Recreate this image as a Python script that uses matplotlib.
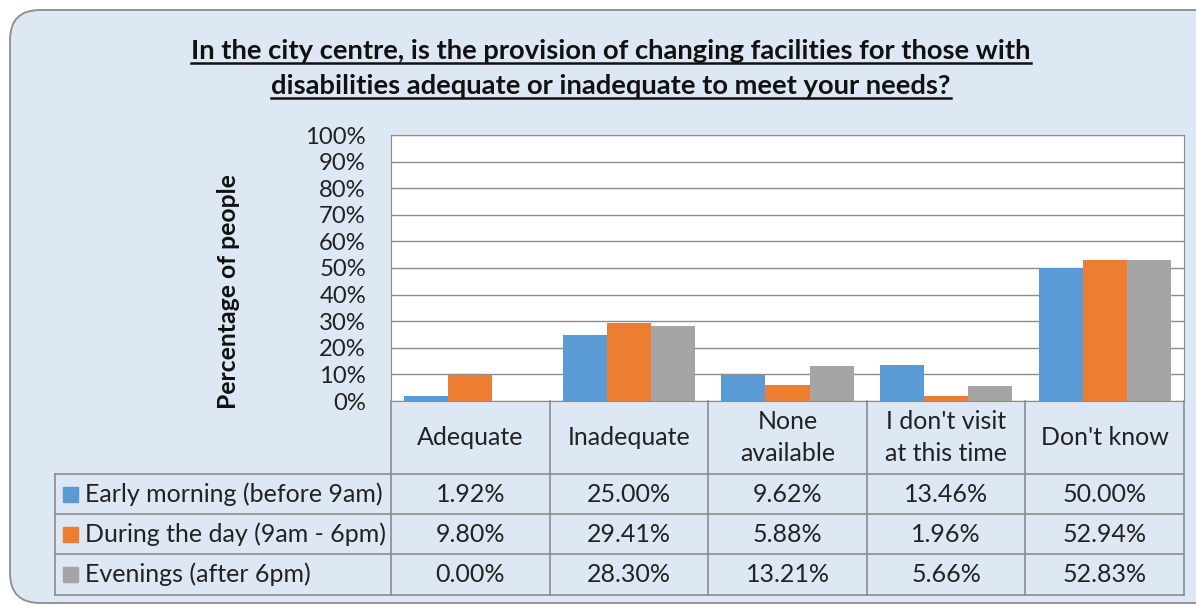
import matplotlib
matplotlib.use("Agg")
import matplotlib.pyplot as plt
from matplotlib.patches import FancyBboxPatch, Rectangle
from matplotlib.lines import Line2D
from matplotlib.transforms import IdentityTransform, blended_transform_factory
import numpy as np

categories = ["Adequate", "Inadequate", "None\navailable", "I don't visit\nat this time", "Don't know"]
series_names = ["Early morning (before 9am)", "During the day (9am - 6pm)", "Evenings (after 6pm)"]
early_morning = [1.92, 25.00, 9.62, 13.46, 50.00]
during_day = [9.80, 29.41, 5.88, 1.96, 52.94]
evenings = [0.00, 28.30, 13.21, 5.66, 52.83]
colors = ["#5B9BD5", "#ED7D31", "#A5A5A5"]
title_lines = ["In the city centre, is the provision of changing facilities for those with",
               "disabilities adequate or inadequate to meet your needs?"]
y_label = "Percentage of people"

plt.rcParams['font.family'] = ['Lato', 'DejaVu Sans']

W, H = 1196, 606
fig = plt.figure(figsize=(W / 100, H / 100), dpi=100)
fig.patch.set_facecolor('white')

# rounded background panel (pixel coordinates, y from bottom)
bg = FancyBboxPatch((10, 3), 1220, 593, boxstyle="round,pad=0,rounding_size=30",
                    transform=IdentityTransform(), facecolor="#DEE8F4",
                    edgecolor="#8C8C8C", lw=1.3, zorder=-10)
fig.patches.append(bg)

# plot area in pixels
L, R, T, B = 391, 1184, 135, 401
ax = fig.add_axes([L / W, 1 - B / H, (R - L) / W, (B - T) / H])
ax.set_facecolor('white')

n = len(categories)
x = np.arange(n)
bw = 1 / 3.6
series = [early_morning, during_day, evenings]
for i, (vals, c) in enumerate(zip(series, colors)):
    ax.bar(x + (i - 1) * bw, vals, bw, color=c, zorder=3)

ax.set_xlim(-0.5, n - 0.5)
ax.set_ylim(0, 100)
ax.set_yticks(range(0, 101, 10))
ax.yaxis.set_major_formatter(lambda v, p: f"{v:.0f}%")
ax.grid(axis='y', color='#8C8C8C', lw=1, zorder=0)
ax.set_xticks([])
ax.tick_params(axis='y', length=0, pad=18, labelsize=17.2, labelcolor='#222222')
for s in ax.spines.values():
    s.set_color('#8C8C8C')

# data table under the plot
tr = blended_transform_factory(ax.transData, ax.transAxes)
ph = B - T
cw = (R - L) / n


def fy(py):
    return -(py - B) / ph


def fx(px):
    return -0.5 + (px - L) / cw


rows_y = [fy(474), fy(514), fy(554), fy(595)]
x_left = fx(55)
line_kw = dict(color='#8C8C8C', lw=1.2, transform=tr, clip_on=False)

for k in range(n + 1):
    ax.add_line(Line2D([k - 0.5, k - 0.5], [0, rows_y[-1]], **line_kw))
ax.add_line(Line2D([x_left, x_left], [rows_y[0], rows_y[-1]], **line_kw))
for ry in rows_y:
    ax.add_line(Line2D([x_left, n - 0.5], [ry, ry], **line_kw))

fs = 18
for k, cat in enumerate(categories):
    ax.text(k, rows_y[0] / 2, cat, transform=tr, ha='center', va='center',
            fontsize=fs, linespacing=1.45, color='#222222')

for j, (vals, name, c) in enumerate(zip(series, series_names, colors)):
    yc = (rows_y[j] + rows_y[j + 1]) / 2
    for k, v in enumerate(vals):
        ax.text(k, yc, f"{v:.2f}%", transform=tr, ha='center', va='center',
                fontsize=fs, color='#222222')
    sq = 15 / ph
    ax.add_patch(Rectangle((fx(63), yc - sq / 2), fx(78) - fx(63), sq,
                           transform=tr, color=c, clip_on=False))
    ax.text(fx(85), yc, name, transform=tr, ha='left', va='center',
            fontsize=fs, color='#222222')

fig.text(228 / W, 1 - 292 / H, y_label, rotation=90, weight='bold',
         ha='center', va='center', fontsize=17.8, color='#111111')

# title with underline
title_texts = []
for line, by in zip(title_lines, [59, 94]):
    t = fig.text(611 / W, 1 - by / H, line, weight='bold', ha='center',
                 va='baseline', fontsize=19.7, color='#111111')
    title_texts.append((t, by))
fig.canvas.draw()
rend = fig.canvas.get_renderer()
for t, by in title_texts:
    bb = t.get_window_extent(rend)
    uy = H - by - 4
    fig.lines.append(Line2D([bb.x0, bb.x1], [uy, uy], transform=IdentityTransform(),
                            color='#111111', lw=1.8))

fig.savefig("out.png", dpi=100)
